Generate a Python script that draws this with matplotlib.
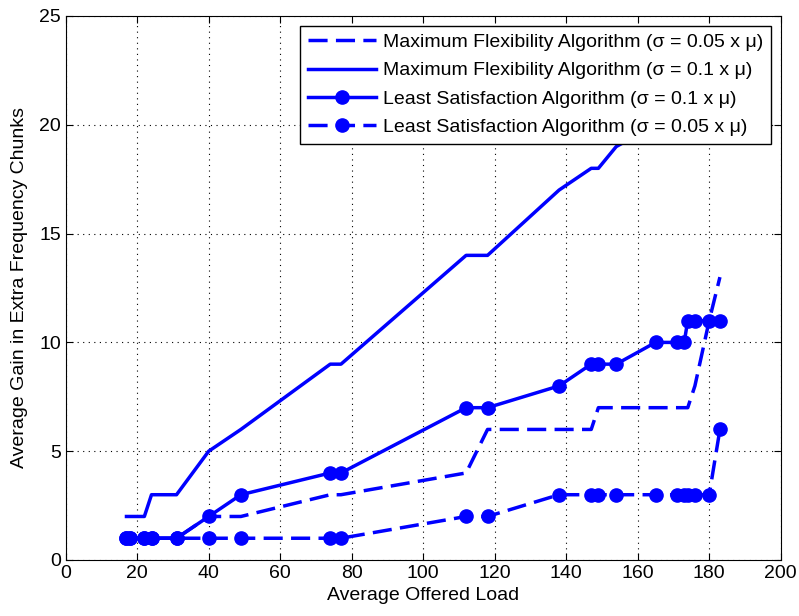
from matplotlib import pyplot as plt

plt.rcParams['font.family'] = ['Liberation Sans', 'DejaVu Sans']

# offered load values (x), shared by all four curves
load = [17, 18, 22, 24, 31, 40, 49, 74, 77, 112, 118, 138, 147, 149, 154,
        165, 171, 173, 174, 176, 180, 183]

mf_005 = [1, 1, 1, 1, 1, 2, 2, 3, 3, 4, 6, 6, 6, 7, 7, 7, 7, 7, 7, 8, 11, 13]
mf_01 = [2, 2, 2, 3, 3, 5, 6, 9, 9, 14, 14, 17, 18, 18, 19, 20, 21, 21, 21, 21, 22, 22]
ls_01 = [1, 1, 1, 1, 1, 2, 3, 4, 4, 7, 7, 8, 9, 9, 9, 10, 10, 10, 11, 11, 11, 11]
ls_005 = [1, 1, 1, 1, 1, 1, 1, 1, 1, 2, 2, 3, 3, 3, 3, 3, 3, 3, 3, 3, 3, 6]

labels = ["Maximum Flexibility Algorithm (σ = 0.05 x μ)",
          "Maximum Flexibility Algorithm (σ = 0.1 x μ)",
          "Least Satisfaction Algorithm (σ = 0.1 x μ)",
          "Least Satisfaction Algorithm (σ = 0.05 x μ)"]

fig = plt.figure(figsize=(7.99, 6.16), dpi=100)
ax = fig.add_axes([65.7 / 799, 1 - 560 / 616, 715 / 799, 544 / 616])

blue = '#0000ff'
lw = 2.5
dash = (5.5, 2.4)
ms = 9.5

ax.plot(load, mf_005, color=blue, lw=lw, linestyle='--', dashes=dash, label=labels[0])
ax.plot(load, mf_01, color=blue, lw=lw, label=labels[1])
ax.plot(load, ls_01, color=blue, lw=lw, marker='o', markersize=ms, label=labels[2])
ax.plot(load, ls_005, color=blue, lw=lw, linestyle='--', dashes=dash,
        marker='o', markersize=ms, label=labels[3])

ax.set_xlim(0, 200)
ax.set_ylim(0, 25)
ax.set_xticks(range(0, 201, 20))
ax.set_yticks(range(0, 26, 5))
ax.tick_params(direction='in', top=True, right=True, labelsize=14, length=5)
ax.grid(True, linestyle=(0, (1, 4)), color='black', linewidth=0.8)

ax.set_xlabel("Average Offered Load", fontsize=14, labelpad=4)
ax.set_ylabel("Average Gain in Extra Frequency Chunks", fontsize=14, labelpad=8)

leg = ax.legend(loc='upper right', fontsize=14, fancybox=False, framealpha=1,
                edgecolor='black', handlelength=3.5, borderaxespad=0.5,
                labelspacing=0.55, handletextpad=0.35, borderpad=0.4)
leg.get_frame().set_linewidth(1.0)

plt.savefig("out.png", dpi=100)
